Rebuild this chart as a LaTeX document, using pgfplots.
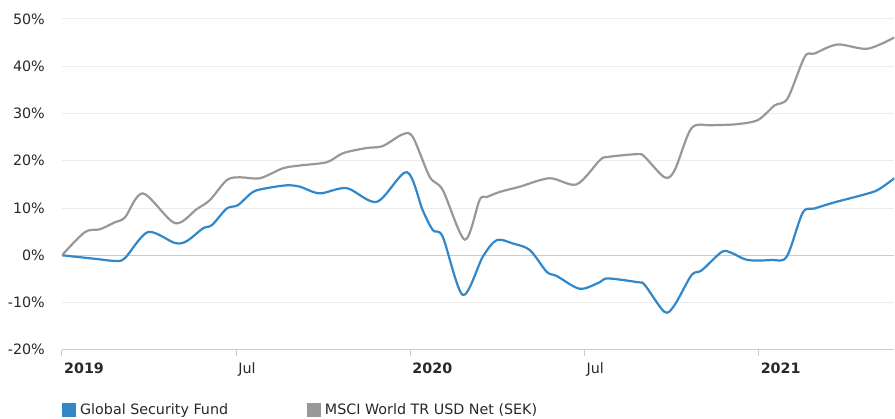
\documentclass[border=0pt]{standalone}
\usepackage{fontspec}
\setmainfont{DejaVu Sans}
\usepackage{pgfplots}
\pgfplotsset{compat=1.18}
\definecolor{fundblue}{RGB}{48,135,202}
\definecolor{msci}{RGB}{152,152,152}
\definecolor{txt}{RGB}{40,40,40}
\definecolor{gridc}{RGB}{236,236,236}
\definecolor{zeroc}{RGB}{204,204,204}
\newcommand\f{\fontsize{14.3bp}{16bp}\selectfont}

% x = months since Jan 2019, y = cumulative return in %
\begin{document}
\begin{tikzpicture}
\begin{axis}[
    scale only axis,
    width=833bp, height=331bp,
    xmin=0, xmax=28.68,
    ymin=-20, ymax=50,
    axis x line*=bottom, axis y line*=left,
    x axis line style={zeroc, line width=1.2bp},
    y axis line style={draw=none},
    ytick={-20,-10,...,50},
    yticklabels={-20\%,-10\%,0\%,10\%,20\%,30\%,40\%,50\%},
    yticklabel style={inner sep=0pt, xshift=-11bp, font=\f, text=txt},
    ytick style={draw=none},
    ymajorgrids, grid style={gridc, line width=1bp},
    extra y ticks={0}, extra y tick labels={},
    extra y tick style={grid style={zeroc, line width=1.2bp}},
    xtick={0,6,12,18,24},
    xticklabels={\textbf{2019},Jul,\textbf{2020},Jul,\textbf{2021}},
    xticklabel style={anchor=north west, inner sep=0pt, xshift=2bp, yshift=-7bp, font=\f, text=txt},
    tick align=outside, major tick length=6bp,
    xtick style={zeroc, line width=1bp},
    legend columns=2,
    legend style={at={(0,-0.181)}, anchor=west, draw=none, fill=none,
        inner sep=0pt, font=\f, text=txt,
        nodes={inner sep=0pt, anchor=west}},
    legend image code/.code={\fill[#1, draw=none] (0bp,-7bp) rectangle (14bp,7bp);},
    every axis plot/.append style={line width=2.2bp, smooth, tension=0.5},
]
\addplot[fundblue] coordinates {
(0,0) (1.21,-0.8) (1.83,-1.2) (2.17,-0.6) (2.96,4.9) (3.89,2.6) (4.30,3.0)
(4.86,5.7) (5.17,6.4) (5.68,9.9) (6.06,10.6) (6.58,13.4) (7.06,14.2) (7.75,14.8)
(8.20,14.5) (8.88,13.1) (9.81,14.2) (10.85,11.3) (11.88,17.6) (12.43,9.5)
(12.78,5.3) (13.12,3.9) (13.81,-8.4) (14.50,-0.3) (14.98,3.2) (15.53,2.5)
(16.12,1.1) (16.70,-3.5) (17.05,-4.4) (17.84,-7.1) (18.53,-5.7) (18.80,-4.9)
(19.83,-5.7) (20.08,-6.3) (20.76,-12.0) (21.11,-10.5) (21.69,-4.2) (22.04,-3.2)
(22.73,0.7) (23.07,0.5) (23.62,-1.0) (24.45,-1.0) (24.97,-0.3) (25.52,9.0)
(25.93,9.9) (26.62,11.2) (27.55,12.7) (28.10,13.8) (28.68,16.3)
};
\addlegendentry{\makebox[231bp][l]{\hspace{4bp}Global Security Fund}}
\addplot[msci] coordinates {
(0,0) (0.79,4.9) (1.31,5.5) (1.83,7.0) (2.17,8.0) (2.79,13.1) (3.89,6.8)
(4.65,9.8) (5.10,11.7) (5.68,15.9) (6.13,16.5) (6.82,16.3) (7.61,18.4)
(8.20,19.0) (9.13,19.7) (9.68,21.6) (10.50,22.7) (11.05,23.1) (11.74,25.6)
(12.09,25.0) (12.67,16.6) (13.12,13.8) (13.88,3.3) (14.39,11.7) (14.63,12.3)
(15.08,13.4) (15.77,14.5) (16.80,16.3) (17.73,15.0) (18.53,20.1) (18.80,20.8)
(19.83,21.4) (20.08,20.8) (20.76,16.5) (21.11,18.0) (21.69,26.9) (22.38,27.5)
(23.18,27.7) (23.97,28.6) (24.55,31.7) (25.00,33.2) (25.59,42.0) (25.93,42.7)
(26.72,44.6) (27.75,43.7) (28.68,46.1)
};
\addlegendentry{\hspace{4bp}MSCI World TR USD Net (SEK)}
\end{axis}
\path[use as bounding box] (-62bp,-69bp) rectangle (833bp,350bp);
\end{tikzpicture}
\end{document}
